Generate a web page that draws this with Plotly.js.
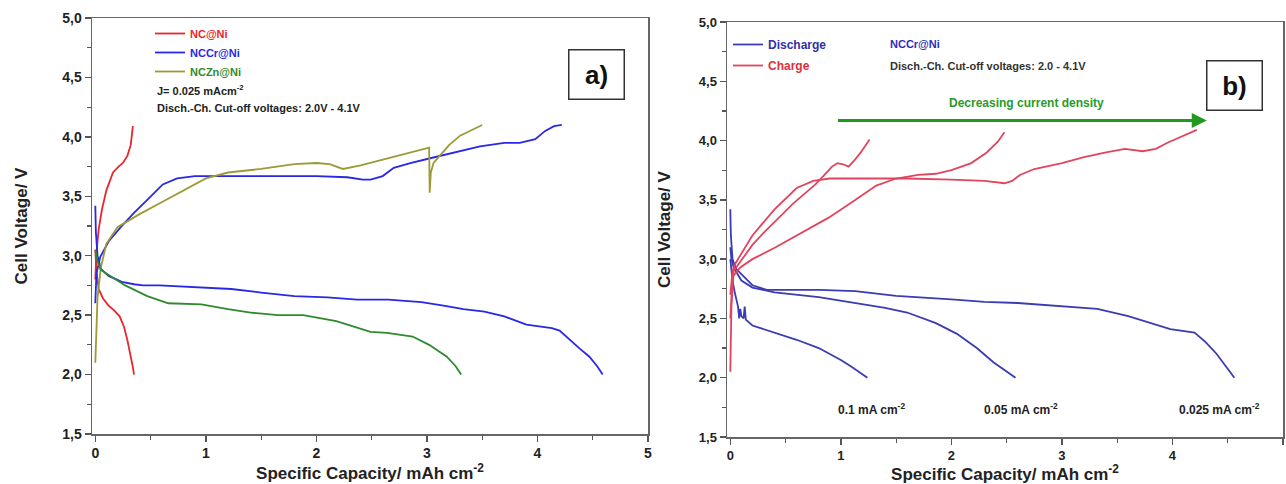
<!DOCTYPE html>
<html>
<head>
<meta charset="utf-8">
<script src="https://cdn.plot.ly/plotly-3.0.1.min.js"></script>
<style>html,body{margin:0;padding:0;background:#fff;}#chart{width:1286px;height:484px;}</style>
</head>
<body>
<div id="chart"></div>
<script>
// ---------- Panel a) data (J = 0.025 mA cm-2) ----------
const ncChargeX = [0, 0.01, 0.03, 0.06, 0.10, 0.16, 0.21, 0.25, 0.29, 0.32, 0.34];
const ncChargeY = [2.80, 3.02, 3.22, 3.39, 3.55, 3.70, 3.75, 3.78, 3.84, 3.93, 4.09];
const ncDischX = [0, 0.01, 0.03, 0.07, 0.12, 0.17, 0.22, 0.26, 0.29, 0.32, 0.34, 0.35];
const ncDischY = [3.05, 2.88, 2.72, 2.64, 2.58, 2.54, 2.49, 2.40, 2.29, 2.16, 2.06, 2.00];

const crChargeX = [0, 0.01, 0.045, 0.12, 0.23, 0.35, 0.47, 0.61, 0.74, 0.9, 1.07, 1.4, 1.67, 2.0, 2.28, 2.42, 2.49, 2.6, 2.7, 2.85, 3.03, 3.25, 3.48, 3.7, 3.84, 3.98, 4.07, 4.15, 4.22];
const crChargeY = [2.60, 2.85, 2.99, 3.12, 3.24, 3.36, 3.47, 3.60, 3.65, 3.67, 3.67, 3.67, 3.67, 3.67, 3.66, 3.64, 3.64, 3.67, 3.74, 3.78, 3.82, 3.87, 3.92, 3.95, 3.95, 3.98, 4.05, 4.09, 4.10];
const crDischX = [0, 0.005, 0.02, 0.05, 0.12, 0.24, 0.35, 0.43, 0.58, 0.8, 1.04, 1.23, 1.5, 1.8, 2.1, 2.37, 2.65, 2.95, 3.15, 3.33, 3.52, 3.7, 3.9, 4.13, 4.2, 4.28, 4.38, 4.47, 4.54, 4.59];
const crDischY = [3.42, 3.2, 3.0, 2.89, 2.83, 2.78, 2.76, 2.75, 2.75, 2.74, 2.73, 2.72, 2.69, 2.66, 2.65, 2.63, 2.63, 2.61, 2.58, 2.55, 2.53, 2.49, 2.42, 2.39, 2.37, 2.30, 2.22, 2.15, 2.07, 2.00];

const znChargeX = [0, 0.01, 0.02, 0.05, 0.1, 0.2, 0.4, 0.6, 0.8, 1.0, 1.2, 1.5, 1.8, 2.0, 2.12, 2.24, 2.4, 2.7, 3.02, 3.025, 3.035, 3.06, 3.2, 3.3, 3.5];
const znChargeY = [2.10, 2.45, 2.65, 2.90, 3.10, 3.24, 3.35, 3.45, 3.55, 3.65, 3.70, 3.73, 3.77, 3.78, 3.77, 3.73, 3.76, 3.83, 3.91, 3.53, 3.70, 3.78, 3.93, 4.01, 4.10];
const znDischX = [0, 0.02, 0.05, 0.15, 0.27, 0.47, 0.66, 0.96, 1.2, 1.42, 1.65, 1.88, 2.18, 2.49, 2.64, 2.87, 3.02, 3.18, 3.26, 3.31];
const znDischY = [3.05, 2.95, 2.88, 2.82, 2.75, 2.66, 2.60, 2.59, 2.55, 2.52, 2.50, 2.50, 2.45, 2.36, 2.35, 2.32, 2.25, 2.15, 2.07, 2.00];

// ---------- Panel b) data (NCCr@Ni, rate test) ----------
const d01X = [0, 0.01, 0.02, 0.04, 0.07, 0.08, 0.09, 0.1, 0.12, 0.13, 0.14, 0.2, 0.4, 0.6, 0.8, 1.0, 1.1, 1.18, 1.24];
const d01Y = [3.0, 2.9, 2.82, 2.72, 2.6, 2.5, 2.58, 2.52, 2.5, 2.6, 2.49, 2.44, 2.38, 2.32, 2.25, 2.15, 2.09, 2.04, 2.00];
const d005X = [0, 0.01, 0.03, 0.1, 0.2, 0.4, 0.8, 1.13, 1.4, 1.6, 1.86, 2.05, 2.23, 2.38, 2.5, 2.58];
const d005Y = [3.1, 3.0, 2.93, 2.82, 2.76, 2.72, 2.68, 2.63, 2.59, 2.55, 2.46, 2.37, 2.25, 2.13, 2.05, 2.00];
const d0025X = [0, 0.005, 0.02, 0.05, 0.2, 0.33, 0.51, 0.8, 1.13, 1.5, 2.0, 2.3, 2.6, 3.0, 3.32, 3.6, 3.98, 4.2, 4.3, 4.4, 4.5, 4.56];
const d0025Y = [3.42, 3.2, 3.0, 2.92, 2.78, 2.74, 2.74, 2.74, 2.73, 2.69, 2.66, 2.64, 2.63, 2.60, 2.58, 2.52, 2.41, 2.38, 2.30, 2.20, 2.08, 2.00];

const c01X = [0, 0.01, 0.03, 0.09, 0.2, 0.31, 0.45, 0.57, 0.67, 0.77, 0.86, 0.92, 0.97, 1.02, 1.07, 1.12, 1.18, 1.26];
const c01Y = [2.05, 2.6, 2.9, 2.98, 3.12, 3.23, 3.36, 3.47, 3.55, 3.63, 3.72, 3.78, 3.81, 3.80, 3.78, 3.83, 3.9, 4.01];
const c005X = [0, 0.02, 0.09, 0.2, 0.41, 0.6, 0.89, 1.1, 1.32, 1.5, 1.7, 1.86, 2.0, 2.18, 2.32, 2.42, 2.48];
const c005Y = [2.5, 2.85, 2.93, 3.0, 3.10, 3.2, 3.35, 3.48, 3.62, 3.68, 3.71, 3.72, 3.75, 3.81, 3.9, 3.99, 4.07];
const c0025X = [0, 0.02, 0.05, 0.2, 0.4, 0.6, 0.75, 0.9, 1.2, 1.6, 2.0, 2.3, 2.48, 2.55, 2.62, 2.75, 3.0, 3.2, 3.4, 3.57, 3.73, 3.85, 3.95, 4.1, 4.22];
const c0025Y = [2.7, 2.9, 2.97, 3.2, 3.42, 3.6, 3.66, 3.68, 3.68, 3.68, 3.67, 3.66, 3.64, 3.66, 3.71, 3.76, 3.81, 3.86, 3.9, 3.93, 3.91, 3.93, 3.98, 4.04, 4.09];

const rateLabels = ['0.1 mA cm<sup>-2</sup>', '0.05 mA cm<sup>-2</sup>', '0.025 mA cm<sup>-2</sup>'];
const rateLabelX = [1.28, 2.63, 4.43];

// ---------- styling ----------
const FONT = 'Liberation Sans, Arial, sans-serif';
const RED = '#e8262b', BLUE = '#2828e6', OLIVE = '#9c9a34', GREEN = '#2f8a2f';
const NAVY = '#3b3bb4', PINK = '#e2445e';

function tr(x, y, color, xa, ya, name, show, group, legend) {
  return {type: 'scatter', mode: 'lines', x: x, y: y, xaxis: xa, yaxis: ya,
    line: {color: color, width: 1.8}, name: name, showlegend: show,
    legendgroup: group, legend: legend, hoverinfo: 'skip'};
}

const data = [
  tr(ncChargeX, ncChargeY, RED, 'x', 'y', '<span style="color:' + RED + '">NC@Ni</span>', true, 'nc', 'legend'),
  tr(ncDischX, ncDischY, RED, 'x', 'y', 'NC@Ni', false, 'nc', 'legend'),
  tr(crChargeX, crChargeY, BLUE, 'x', 'y', '<span style="color:' + BLUE + '">NCCr@Ni</span>', true, 'cr', 'legend'),
  tr(crDischX, crDischY, BLUE, 'x', 'y', 'NCCr@Ni', false, 'cr', 'legend'),
  tr(znChargeX, znChargeY, OLIVE, 'x', 'y', '<span style="color:' + GREEN + '">NCZn@Ni</span>', true, 'zn', 'legend'),
  tr(znDischX, znDischY, GREEN, 'x', 'y', 'NCZn@Ni', false, 'zn', 'legend'),

  tr(d01X, d01Y, NAVY, 'x2', 'y2', '<span style="color:#3232a8">Discharge</span>', true, 'dis', 'legend2'),
  tr(d005X, d005Y, NAVY, 'x2', 'y2', 'Discharge', false, 'dis', 'legend2'),
  tr(d0025X, d0025Y, NAVY, 'x2', 'y2', 'Discharge', false, 'dis', 'legend2'),
  tr(c01X, c01Y, PINK, 'x2', 'y2', '<span style="color:#e03040">Charge</span>', true, 'ch', 'legend2'),
  tr(c005X, c005Y, PINK, 'x2', 'y2', 'Charge', false, 'ch', 'legend2'),
  tr(c0025X, c0025Y, PINK, 'x2', 'y2', 'Charge', false, 'ch', 'legend2')
];

function xAxis(domain, anchor, size) {
  return {domain: domain, anchor: anchor, range: [-0.03, 5], dtick: 1, tick0: 0,
    ticks: 'outside', ticklen: 6, tickwidth: 1.5, tickcolor: '#555',
    minor: {dtick: 0.5, tick0: 0, ticks: 'outside', ticklen: 4, tickwidth: 1.2, tickcolor: '#555'},
    showline: true, linecolor: '#666', linewidth: 1.5, mirror: true,
    showgrid: false, zeroline: false,
    tickfont: {family: FONT, size: size, color: '#222', weight: 'bold'},
    title: {text: '<b>Specific Capacity/ mAh cm<sup>-2</sup></b>', font: {family: FONT, size: 17, color: '#222'}, standoff: 2}};
}
function yAxis(domain, anchor, size, standoff) {
  return {domain: domain, anchor: anchor, range: [1.5, 5], dtick: 0.5, tick0: 0, tickformat: '.1f',
    ticks: 'outside', ticklen: 6, tickwidth: 1.5, tickcolor: '#555',
    minor: {dtick: 0.25, tick0: 0, ticks: 'outside', ticklen: 4, tickwidth: 1.2, tickcolor: '#555'},
    showline: true, linecolor: '#666', linewidth: 1.5, mirror: true,
    showgrid: false, zeroline: false,
    tickfont: {family: FONT, size: size, color: '#222', weight: 'bold'},
    title: {text: '<b>Cell Voltage/ V</b>', font: {family: FONT, size: 17, color: '#222'}, standoff: standoff}};
}

const annots = [
  {xref: 'paper', yref: 'paper', x: 155 / 1286, y: 1 - 90 / 484, xanchor: 'left', yanchor: 'middle', showarrow: false,
   text: '<b>J= 0.025 mAcm<sup>-2</sup></b>', font: {family: FONT, size: 11, color: '#222'}},
  {xref: 'paper', yref: 'paper', x: 155 / 1286, y: 1 - 108 / 484, xanchor: 'left', yanchor: 'middle', showarrow: false,
   text: '<b>Disch.-Ch. Cut-off voltages: 2.0V - 4.1V</b>', font: {family: FONT, size: 11, color: '#222'}},
  {xref: 'paper', yref: 'paper', x: 596 / 1286, y: 1 - 75 / 484, xanchor: 'center', yanchor: 'middle', showarrow: false,
   text: '<b>a)</b>', font: {family: FONT, size: 26, color: '#111'}, width: 50, height: 44, borderpad: 2,
   bordercolor: '#333', borderwidth: 1.5, bgcolor: '#fff'},

  {xref: 'paper', yref: 'paper', x: 888 / 1286, y: 1 - 44 / 484, xanchor: 'left', yanchor: 'middle', showarrow: false,
   text: '<b>NCCr@Ni</b>', font: {family: FONT, size: 11, color: '#2e2eb8'}},
  {xref: 'paper', yref: 'paper', x: 888 / 1286, y: 1 - 66 / 484, xanchor: 'left', yanchor: 'middle', showarrow: false,
   text: '<b>Disch.-Ch. Cut-off voltages: 2.0 - 4.1V</b>', font: {family: FONT, size: 11, color: '#333'}},
  {xref: 'paper', yref: 'paper', x: 1234 / 1286, y: 1 - 85 / 484, xanchor: 'center', yanchor: 'middle', showarrow: false,
   text: '<b>b)</b>', font: {family: FONT, size: 26, color: '#111'}, width: 50, height: 44, borderpad: 2,
   bordercolor: '#333', borderwidth: 1.5, bgcolor: '#fff'},
  {xref: 'x2', yref: 'y2', x: 4.31, y: 4.17, axref: 'x2', ayref: 'y2', ax: 0.96, ay: 4.17, text: '',
   showarrow: true, arrowhead: 2, arrowsize: 1, arrowwidth: 3, arrowcolor: '#1f9a1f'},
  {xref: 'x2', yref: 'y2', x: 2.68, y: 4.32, xanchor: 'center', yanchor: 'middle', showarrow: false,
   text: '<b>Decreasing current density</b>', font: {family: FONT, size: 12, color: '#2a9a2a'}}
];
for (let i = 0; i < rateLabels.length; i++) {
  annots.push({xref: 'x2', yref: 'y2', x: rateLabelX[i], y: 1.74, xanchor: 'center', yanchor: 'middle', showarrow: false,
    text: '<b>' + rateLabels[i] + '</b>', font: {family: FONT, size: 12, color: '#222'}});
}

const layout = {
  width: 1286, height: 484,
  margin: {l: 0, r: 0, t: 0, b: 0},
  paper_bgcolor: '#fff', plot_bgcolor: '#fff',
  separators: ',.',
  xaxis: xAxis([92 / 1286, 648 / 1286], 'y', 14),
  yaxis: yAxis([50 / 484, 466 / 484], 'x', 14, 30),
  xaxis2: xAxis([727 / 1286, 1283 / 1286], 'y2', 13),
  yaxis2: yAxis([47 / 484, 462 / 484], 'x2', 13, 24),
  legend: {x: 150 / 1286, y: 1 - 19 / 484, xanchor: 'left', yanchor: 'top', bgcolor: 'rgba(0,0,0,0)',
    font: {family: FONT, size: 11, weight: 'bold'}, itemwidth: 30, tracegroupgap: 0},
  legend2: {x: 728 / 1286, y: 1 - 30 / 484, xanchor: 'left', yanchor: 'top', bgcolor: 'rgba(0,0,0,0)',
    font: {family: FONT, size: 12, weight: 'bold'}, itemwidth: 30, tracegroupgap: 2},
  annotations: annots,
  showlegend: true
};

Plotly.newPlot('chart', data, layout, {staticPlot: true, displayModeBar: false});
</script>
</body>
</html>
